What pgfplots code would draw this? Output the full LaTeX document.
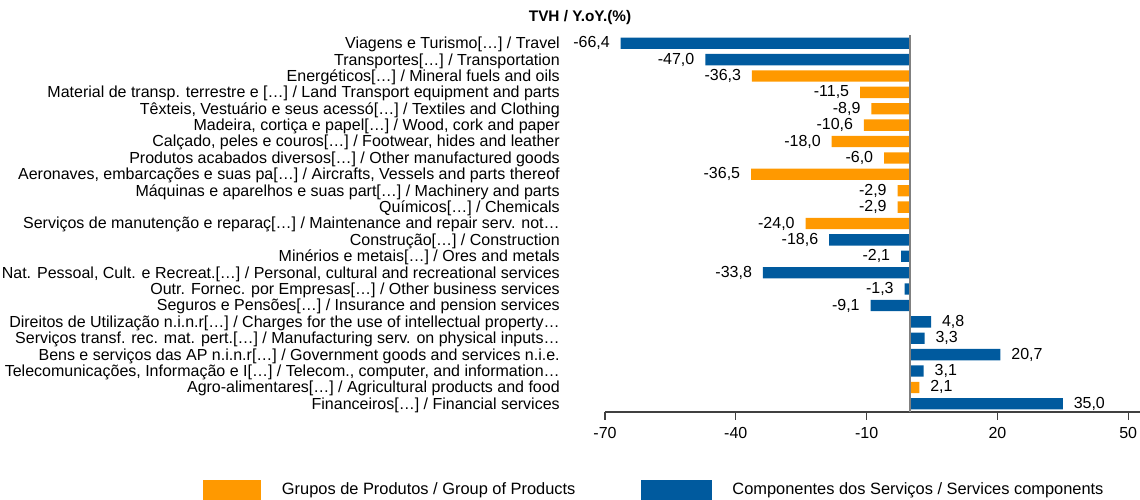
\documentclass[border=0pt]{standalone}
\usepackage{pgfplots}
\pgfplotsset{compat=1.18}
\usepackage{fontspec}
\setmainfont{Liberation Sans}
\definecolor{orng}{RGB}{255,153,0}
\definecolor{blu}{RGB}{0,90,158}
\newcommand\fs{\fontsize{12}{14}\selectfont}
\begin{document}
\begin{tikzpicture}
\path[use as bounding box] (0pt,0pt) rectangle (855pt,375pt);
\node[font=\fontsize{11.5}{13}\selectfont\bfseries] at (435pt,361.5pt) {TVH / Y.oY.(\%)};
\begin{axis}[
  at={(453.75pt,66pt)}, anchor=south west,
  scale only axis, width=401.25pt, height=282.75pt,
  xmin=-70, xmax=52.7, ymin=-0.5, ymax=22.5, y dir=reverse,
  xbar, bar width=8.5pt,
  /pgf/number format/assume math mode=true,
  axis x line*=bottom, axis y line*=left,
  y axis line style={draw=none},
  x axis line style={draw=black!75, line width=0.8pt},
  tick align=outside, major tick length=5.75pt,
  xtick pos=bottom,
  xtick style={draw=black!75, line width=0.8pt},
  ytick style={draw=none},
  xtick={-70,-40,-10,20,50},
  ytick={0,...,22},
  tick label style={font=\fs},
  yticklabel style={anchor=east, inner sep=0pt, xshift=-28pt, yshift=-1pt},
  xticklabel style={yshift=-2pt},
  yticklabels={
    {Viagens e Turismo[…] / Travel},
    {Transportes[…] / Transportation},
    {Energéticos[…] / Mineral fuels and oils},
    {Material de transp. terrestre e […] / Land Transport equipment and parts},
    {Têxteis, Vestuário e seus acessó[…] / Textiles and Clothing},
    {Madeira, cortiça e papel[…] / Wood, cork and paper},
    {Calçado, peles e couros[…] / Footwear, hides and leather},
    {Produtos acabados diversos[…] / Other manufactured goods},
    {Aeronaves, embarcações e suas pa[…] / Aircrafts, Vessels and parts thereof},
    {Máquinas e aparelhos e suas part[…] / Machinery and parts},
    {Químicos[…] / Chemicals},
    {Serviços de manutenção e reparaç[…] / Maintenance and repair serv. not…},
    {Construção[…] / Construction},
    {Minérios e metais[…] / Ores and metals},
    {Nat. Pessoal, Cult. e Recreat.[…] / Personal, cultural and recreational services},
    {Outr. Fornec. por Empresas[…] / Other business services},
    {Seguros e Pensões[…] / Insurance and pension services},
    {Direitos de Utilização n.i.n.r[…] / Charges for the use of intellectual property…},
    {Serviços transf. rec. mat. pert.[…] / Manufacturing serv. on physical inputs…},
    {Bens e serviços das AP n.i.n.r[…] / Government goods and services n.i.e.},
    {Telecomunicações, Informação e I[…] / Telecom., computer, and information…},
    {Agro-alimentares[…] / Agricultural products and food},
    {Financeiros[…] / Financial services}
  },
  nodes near coords={\pgfmathprintnumber[fixed,fixed zerofill,precision=1,use comma]{\pgfplotspointmeta}},
  nodes near coords style={font=\fs, inner xsep=8pt, inner ysep=0pt},
  legend columns=2,
  legend style={at={(-0.7514,-0.2095)}, anchor=west, draw=none, fill=none,
    font=\fontsize{12.3}{14}\selectfont, inner sep=0pt,
    /tikz/every odd column/.append style={column sep=13.5pt},
    /tikz/every even column/.append style={column sep=47pt}},
]
\addplot[draw=none, fill=orng, bar shift=0pt,
  legend image code/.code={\fill[orng] (0pt,-10pt) rectangle (43.5pt,6.5pt);}]
  coordinates {(-36.3,2) (-11.5,3) (-8.9,4) (-10.6,5) (-18.0,6) (-6.0,7) (-36.5,8) (-2.9,9) (-2.9,10) (-24.0,11) (2.1,21)};
\addlegendentry{Grupos de Produtos / Group of Products}
\addplot[draw=none, fill=blu, bar shift=0pt,
  legend image code/.code={\fill[blu] (0pt,-10pt) rectangle (53.25pt,6.5pt);}]
  coordinates {(-66.4,0) (-47.0,1) (-18.6,12) (-2.1,13) (-33.8,14) (-1.3,15) (-9.1,16) (4.8,17) (3.3,18) (20.7,19) (3.1,20) (35.0,22)};
\addlegendentry{Componentes dos Serviços / Services components}
\draw[black!50, line width=1.1pt] (axis cs:0,-0.5) -- (axis cs:0,22.5);
\end{axis}
\end{tikzpicture}
\end{document}
